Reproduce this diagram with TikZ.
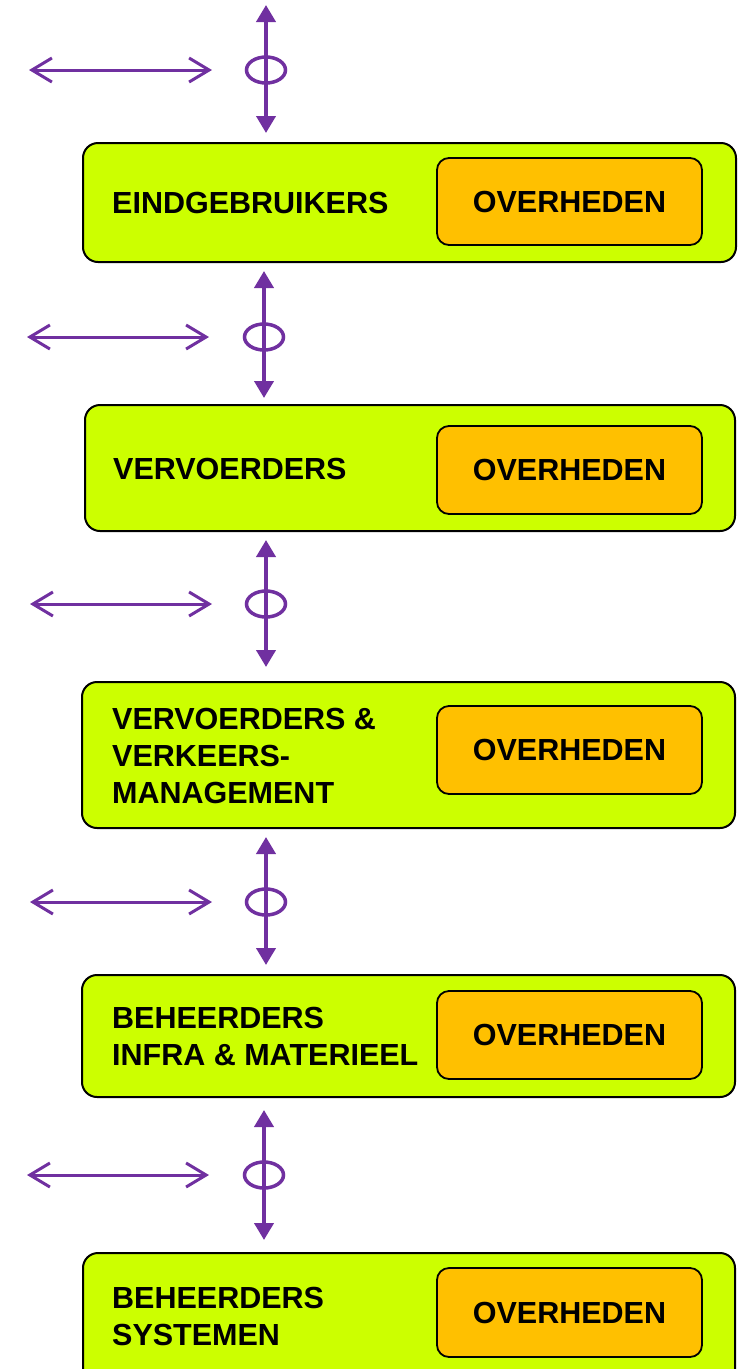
\documentclass[tikz,border=0pt]{standalone}
\usepackage{fontspec}
\setmainfont{Liberation Sans}
\usetikzlibrary{arrows.meta,shapes.geometric}
\definecolor{lime}{HTML}{CCFF00}
\definecolor{orng}{HTML}{FFC000}
\definecolor{purp}{HTML}{7030A0}
\begin{document}
\begin{tikzpicture}[x=1pt,y=-1pt,
  greenbox/.style={draw=black,line width=2pt,fill=lime,rounded corners=15pt,inner sep=0pt},
  orangebox/.style={draw=black,line width=1.8pt,fill=orng,rounded corners=12pt,inner sep=0pt,
    font=\fontsize{30.5}{37}\selectfont\bfseries},
  lbl/.style={anchor=west,align=left,inner sep=0pt,font=\fontsize{30.5}{37}\selectfont\bfseries},
  varrow/.style={draw=purp,line width=4pt,{Triangle[length=17pt,width=19pt]}-{Triangle[length=17pt,width=19pt]}},
  harrow/.style={draw=purp,line width=3pt,{Straight Barb[length=20pt,width=24pt,line width=3pt]}-{Straight Barb[length=20pt,width=24pt,line width=3pt]}},
  ring/.style={draw=purp,line width=3.5pt,ellipse,minimum width=39pt,minimum height=26pt,inner sep=0pt}
]
\useasboundingbox (0,0) rectangle (738,1369);
% boxes
\node[greenbox,minimum width=653pt,minimum height=119pt] (g1) at (409.5,202.5) {};
\node[orangebox,minimum width=265pt,minimum height=87pt] (o1) at (569.5,201.5) {OVERHEDEN};
\node[lbl] (t1) at (112,203) {EINDGEBRUIKERS};

\node[greenbox,minimum width=650pt,minimum height=126pt] (g2) at (410,468) {};
\node[orangebox,minimum width=265pt,minimum height=88pt] (o2) at (569.5,470) {OVERHEDEN};
\node[lbl] (t2) at (113,469) {VERVOERDERS};

\node[greenbox,minimum width=653pt,minimum height=146pt] (g3) at (408.5,755) {};
\node[orangebox,minimum width=265pt,minimum height=88pt] (o3) at (569.5,750) {OVERHEDEN};
\node[lbl] (t3) at (112,756) {VERVOERDERS \&\\VERKEERS-\\MANAGEMENT};

\node[greenbox,minimum width=653pt,minimum height=122pt] (g4) at (408.5,1036) {};
\node[orangebox,minimum width=265pt,minimum height=88pt] (o4) at (569.5,1035) {OVERHEDEN};
\node[lbl] (t4) at (112,1036.5) {BEHEERDERS\\INFRA \& MATERIEEL};

\node[greenbox,minimum width=652pt,minimum height=135pt] (g5) at (409,1320.5) {};
\node[orangebox,minimum width=265pt,minimum height=89pt] (o5) at (569.5,1312.5) {OVERHEDEN};
\node[lbl] (t5) at (112,1316) {BEHEERDERS\\SYSTEMEN};

% connector groups
\foreach \i/\cx/\cy/\ya/\yb/\hl/\hr in {1/266/70/5/133/29/212, 2/264/337/271/398/27/209, 3/266/604/540/667/30/212, 4/266/902/837/965/30/212, 5/264/1175/1110/1240/27/209}{
  \coordinate (va\i) at (\cx,\ya);
  \coordinate (vb\i) at (\cx,\yb);
  \coordinate (ha\i) at (\hl,\cy);
  \coordinate (hb\i) at (\hr,\cy);
  \node[ring] (r\i) at (\cx,\cy) {};
  \draw[varrow] (va\i) -- (vb\i);
  \draw[harrow] (ha\i) -- (hb\i);
}
\end{tikzpicture}
\end{document}
